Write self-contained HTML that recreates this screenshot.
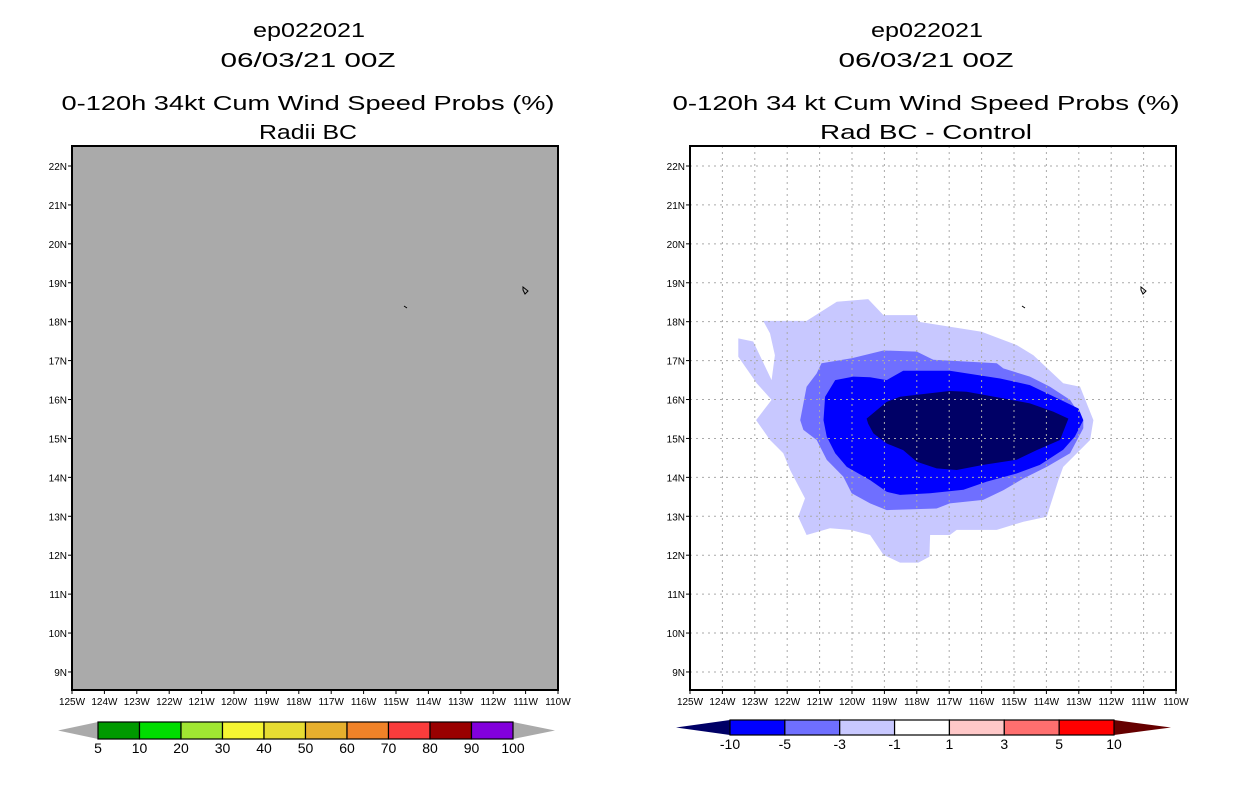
<!DOCTYPE html>
<html><head><meta charset="utf-8">
<style>
body{margin:0;background:#fff;}
svg{display:block;font-family:"Liberation Sans","DejaVu Sans",sans-serif;}
</style></head>
<body>
<svg id="s" width="1236" height="800" viewBox="0 0 1236 800" xmlns="http://www.w3.org/2000/svg">
<g font-size="20" text-anchor="middle" fill="#000" lengthAdjust="spacingAndGlyphs">
<text x="309" y="37" textLength="112" lengthAdjust="spacingAndGlyphs">ep022021</text>
<text x="308" y="67" textLength="175" lengthAdjust="spacingAndGlyphs">06/03/21 00Z</text>
<text x="308" y="110" textLength="493" lengthAdjust="spacingAndGlyphs">0-120h 34kt Cum Wind Speed Probs (%)</text>
<text x="308" y="139" textLength="98" lengthAdjust="spacingAndGlyphs">Radii BC</text>
<text x="927" y="37" textLength="112" lengthAdjust="spacingAndGlyphs">ep022021</text>
<text x="926" y="67" textLength="175" lengthAdjust="spacingAndGlyphs">06/03/21 00Z</text>
<text x="926" y="110" textLength="507" lengthAdjust="spacingAndGlyphs">0-120h 34 kt Cum Wind Speed Probs (%)</text>
<text x="926" y="139" textLength="212" lengthAdjust="spacingAndGlyphs">Rad BC - Control</text>
</g>
<g id="left"></g>
<g id="right"></g>
<g id="cbl"></g>
<g id="cbr"></g>
</svg>
<script>
const lonTicks=[125,124,123,122,121,120,119,118,117,116,115,114,113,112,111,110];
const latTicks=[22,21,20,19,18,17,16,15,14,13,12,11,10,9];
const leftLevels=["5","10","20","30","40","50","60","70","80","90","100"];
const leftColors=["#009900","#00dd00","#a0e632","#f5f532","#e6dc32","#e6af2d","#f08228","#fa3c3c","#990000","#8200dc"];
const rightLevels=["-10","-5","-3","-1","1","3","5","10"];
const rightColors=["#0000ff","#6f6fff","#c8c8ff","#ffffff","#ffc8c8","#ff6f6f","#ff0000"];
const contourLevels=[-1,-3,-5,-10];
const contourColors=["#c8c8ff","#6f6fff","#0000ff","#000066"];
const cLon1=[-122.74,-121.40,-120.47,-119.50,-119.03,-118.00,-117.95,-116.00,-114.92,-114.40,-113.48,-112.96,-112.55,-112.65,-113.48,-113.63,-113.99,-114.71,-115.53,-116.77,-116.98,-117.59,-117.61,-117.95,-118.52,-119.03,-119.44,-120.06,-120.68,-121.40,-121.66,-121.45,-121.91,-122.12,-122.53,-122.96,-122.48,-122.94,-123.51,-123.51,-123.05,-122.48,-122.38,-122.53];
const cLat1=[18.02,18.02,18.51,18.58,18.17,18.17,18.00,17.74,17.40,17.14,16.42,16.33,15.47,14.96,14.27,13.93,12.99,12.86,12.65,12.65,12.52,12.52,11.96,11.81,11.81,12.01,12.52,12.65,12.69,12.52,12.99,13.46,14.19,14.62,14.96,15.47,15.99,16.42,17.10,17.57,17.49,16.50,17.14,17.70];
const cLon3=[-120.94,-120.01,-119.03,-118.00,-117.49,-115.53,-115.33,-114.51,-113.89,-113.27,-112.86,-112.86,-113.27,-113.99,-114.71,-115.33,-115.95,-116.98,-117.39,-118.93,-119.44,-120.01,-120.27,-120.78,-121.09,-121.50,-121.60,-121.40,-121.09];
const cLat3=[16.93,17.06,17.26,17.23,17.02,16.93,16.80,16.59,16.33,15.99,15.47,15.26,14.62,14.27,13.97,13.67,13.42,13.33,13.20,13.16,13.33,13.59,14.02,14.45,14.96,15.22,15.47,16.33,16.67];
const cLon5=[-119.96,-119.44,-118.93,-118.42,-116.98,-115.43,-114.51,-113.89,-113.01,-112.86,-113.12,-113.48,-114.20,-114.92,-115.84,-116.56,-117.59,-118.52,-118.93,-119.44,-120.16,-120.52,-120.78,-120.88,-120.83,-120.52];
const cLat5=[16.59,16.57,16.50,16.74,16.74,16.54,16.37,16.12,15.77,15.47,15.05,14.71,14.32,14.10,13.89,13.68,13.59,13.55,13.63,13.93,14.27,14.62,15.05,15.47,16.07,16.50];
const cLon10=[-119.55,-118.93,-118.52,-117.59,-116.98,-116.46,-115.33,-114.51,-113.79,-113.32,-113.58,-114.30,-114.92,-115.95,-116.77,-117.39,-118.00,-118.42,-118.93,-119.34,-119.50];
const cLat10=[15.51,15.94,16.07,16.16,16.22,16.20,16.03,15.90,15.69,15.51,14.96,14.70,14.45,14.32,14.19,14.23,14.40,14.70,14.87,15.13,15.38];
const contourLons=[cLon1,cLon3,cLon5,cLon10];
const contourLats=[cLat1,cLat3,cLat5,cLat10];

const NS="http://www.w3.org/2000/svg";
function mk(tag,attrs,parent){const e=document.createElementNS(NS,tag);for(const k in attrs)e.setAttribute(k,attrs[k]);parent.appendChild(e);return e;}
const Y0=146,Y1=690;
function yOf(lat){return 166+(22-lat)*38.92;}
function panel(g,x0,grid,contours,pfx){
  const xOf=lon=>x0+(-125-lon)*(-32.4);
  const bg=mk('rect',{x:x0,y:Y0,width:486,height:Y1-Y0,fill:grid?'#fff':'#aaaaaa'},g);
  
  
  if(contours){
    contourLons.forEach((lons,i)=>{
      const pts=lons.map((lo,j)=>xOf(lo).toFixed(1)+','+yOf(contourLats[i][j]).toFixed(1)).join(' ');
      const p=mk('polygon',{points:pts,fill:contourColors[i]},g);
      
      
    });
  }
  lonTicks.forEach(lo=>{
    const x=xOf(-lo);
    if(grid){const l=mk('line',{x1:x,y1:Y0,x2:x,y2:Y1,stroke:'#aaa','stroke-dasharray':'2,4'},g);
      
      }
    mk('line',{x1:x,y1:Y1,x2:x,y2:Y1+4,stroke:'#000'},g);
    const t=mk('text',{x:x,y:Y1+15,'font-size':10,'text-anchor':'middle'},g);t.textContent=lo+'W';
    
    
  });
  latTicks.forEach(la=>{
    const y=yOf(la);
    if(grid){const l=mk('line',{x1:x0,y1:y,x2:x0+486,y2:y,stroke:'#aaa','stroke-dasharray':'2,4'},g);
      
      }
    mk('line',{x1:x0-4,y1:y,x2:x0,y2:y,stroke:'#000'},g);
    const t=mk('text',{x:x0-5,y:y+4,'font-size':10,'text-anchor':'end'},g);t.textContent=la+'N';
    
    
  });
  mk('polygon',{points:`${x0+332},306 ${x0+335},308`,fill:'none',stroke:'#000'},g);
  const isl=mk('polygon',{points:`${x0+451},287 ${x0+456},291 ${x0+453},294 ${x0+451},290`,fill:'none',stroke:'#000'},g);
  
  
  const fr=mk('rect',{x:x0,y:Y0,width:486,height:Y1-Y0,fill:'none',stroke:'#000','stroke-width':2},g);
  
  
}
panel(document.getElementById('left'),72,false,false,'left');
panel(document.getElementById('right'),690,true,true,'right');

function colorbar(g,tipL,x0,x1,tipR,y0,y1,colors,labels,cl,cr){
  const n=colors.length,w=(x1-x0)/n,ym=(y0+y1)/2;
  mk('polygon',{points:`${tipL},${ym} ${x0},${y0} ${x0},${y1}`,fill:cl},g);
  mk('polygon',{points:`${tipR},${ym} ${x1},${y0} ${x1},${y1}`,fill:cr},g);
  colors.forEach((c,i)=>{
    const r=mk('rect',{x:x0+i*w,y:y0,width:w,height:y1-y0,fill:c,stroke:'#000','stroke-width':1.2},g);
    
    
  });
  labels.forEach((lb,i)=>{
    const t=mk('text',{x:x0+i*w,y:y1+14,'font-size':14,'text-anchor':'middle'},g);t.textContent=lb;
    
    
  });
}
colorbar(document.getElementById('cbl'),58,98,513,555,722,739,leftColors,leftLevels,'#aaaaaa','#aaaaaa');
colorbar(document.getElementById('cbr'),676,730,1114,1171,720,735,rightColors,rightLevels,'#000066','#660000');
</script>
</body></html>
